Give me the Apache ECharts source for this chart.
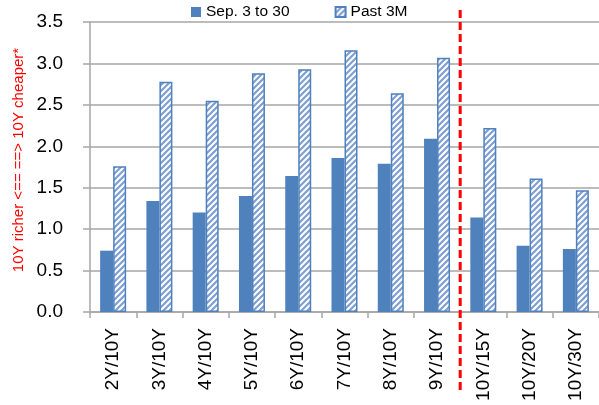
<!DOCTYPE html>
<html>
<head>
<meta charset="utf-8">
<script src="https://cdn.jsdelivr.net/npm/echarts@6/dist/echarts.min.js"></script>
<style>
  html, body { margin: 0; padding: 0; background: #fff; }
  #chart { width: 599px; height: 405px; }
</style>
</head>
<body>
<div id="chart"></div>
<script>
// Spread pairs, in the order they appear on the axis
const categories = ['2Y/10Y', '3Y/10Y', '4Y/10Y', '5Y/10Y', '6Y/10Y', '7Y/10Y', '8Y/10Y', '9Y/10Y', '10Y/15Y', '10Y/20Y', '10Y/30Y'];
const seriesNames = ['Sep. 3 to 30', 'Past 3M'];
const sepValues = [0.74, 1.34, 1.20, 1.40, 1.64, 1.86, 1.79, 2.09, 1.14, 0.80, 0.76];
const past3mValues = [1.76, 2.78, 2.55, 2.88, 2.93, 3.16, 2.64, 3.07, 2.22, 1.61, 1.47];
const yTicks = [0, 0.5, 1.0, 1.5, 2.0, 2.5, 3.0, 3.5];
const yTitle = '10Y richer <== ==> 10Y cheaper*';
// The divider sits after this many categories (curve segments left of 10Y vs right of it)
const dividerAfter = 8;

const BLUE = '#4F81BD';
const FONT = '"Liberation Sans", Arial, sans-serif';

// Upward diagonal hatch fill
function makeHatch() {
  const s = 6;
  const c = document.createElement('canvas');
  c.width = s; c.height = s;
  const g = c.getContext('2d');
  g.fillStyle = '#ffffff';
  g.fillRect(0, 0, s, s);
  g.strokeStyle = '#7F9FD3';
  g.lineWidth = 2.2;
  g.beginPath();
  g.moveTo(-1, s + 1); g.lineTo(s + 1, -1);
  g.moveTo(-s / 2 - 1, s / 2 + 1); g.lineTo(s / 2 + 1, -s / 2 - 1);
  g.moveTo(s / 2 - 1, s * 1.5 + 1); g.lineTo(s * 1.5 + 1, s / 2 - 1);
  g.stroke();
  return c;
}

const chart = echarts.init(document.getElementById('chart'), null, { renderer: 'canvas' });

const option = {
  animation: false,
  backgroundColor: '#ffffff',
  textStyle: { fontFamily: FONT },
  legend: {
    top: 4,
    left: 191,
    padding: 0,
    itemWidth: 10,
    itemHeight: 10,
    itemGap: 45,
    textStyle: { fontSize: 15.5, color: '#000', fontFamily: FONT },
    data: [
      { name: seriesNames[0], icon: 'rect' },
      { name: seriesNames[1], icon: 'rect' }
    ]
  },
  grid: { left: 90, right: 0, top: 22, bottom: 93, containLabel: false },
  xAxis: {
    type: 'category',
    data: categories,
    boundaryGap: true,
    axisLine: { show: true, lineStyle: { color: '#A6A6A6', width: 1.5 } },
    axisTick: { show: true, alignWithLabel: false, length: 6, lineStyle: { color: '#A6A6A6', width: 1.5 } },
    axisLabel: { rotate: 90, margin: 16, fontSize: 19, color: '#000', fontFamily: FONT, interval: 0 }
  },
  yAxis: {
    type: 'value',
    min: yTicks[0],
    max: yTicks[yTicks.length - 1],
    interval: 0.5,
    axisLine: { show: true, lineStyle: { color: '#A6A6A6', width: 1.5 } },
    axisTick: { show: true, inside: false, length: 7, lineStyle: { color: '#A6A6A6', width: 1.5 } },
    splitLine: { show: true, lineStyle: { color: '#A6A6A6', width: 1.5 } },
    axisLabel: {
      margin: 27,
      fontSize: 19,
      color: '#000',
      fontFamily: FONT,
      formatter: v => v.toFixed(1)
    }
  },
  series: [
    {
      name: seriesNames[0],
      type: 'bar',
      data: sepValues,
      barWidth: 13,
      barGap: '0%',
      itemStyle: { color: BLUE }
    },
    {
      name: seriesNames[1],
      type: 'bar',
      data: past3mValues,
      barWidth: 13,
      barGap: '0%',
      itemStyle: {
        color: { image: makeHatch(), repeat: 'repeat' },
        borderColor: BLUE,
        borderWidth: 1.5
      }
    }
  ]
};

chart.setOption(option);

// Red dashed divider at the category boundary, plus the rotated y title
function drawOverlays() {
  const left = chart.convertToPixel({ xAxisIndex: 0 }, dividerAfter - 1);
  const right = chart.convertToPixel({ xAxisIndex: 0 }, dividerAfter);
  const x = (left + right) / 2;
  const yTop = chart.convertToPixel({ yAxisIndex: 0 }, yTicks[yTicks.length - 1]);
  const yBottom = chart.convertToPixel({ yAxisIndex: 0 }, yTicks[0]);
  chart.setOption({
    graphic: [
      {
        type: 'line',
        shape: { x1: x, y1: yTop - 12, x2: x, y2: yBottom + 81 },
        style: { stroke: '#FF0000', lineWidth: 3, lineDash: [8, 4] },
        z: 100
      },
      {
        type: 'text',
        x: 18.5,
        y: (yTop + yBottom) / 2 - 7,
        rotation: Math.PI / 2,
        style: {
          text: yTitle,
          fill: '#FF0000',
          font: '15px ' + FONT,
          align: 'center',
          verticalAlign: 'middle'
        },
        z: 100
      }
    ]
  });
}
drawOverlays();
</script>
</body>
</html>
